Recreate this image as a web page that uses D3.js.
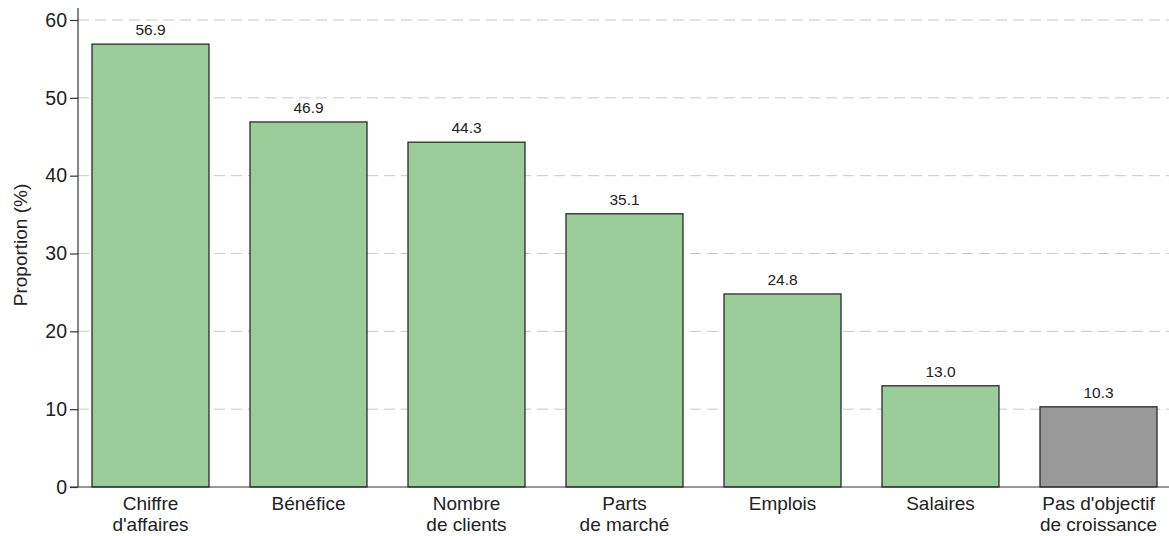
<!DOCTYPE html>
<html><head><meta charset="utf-8">
<script src="https://cdn.jsdelivr.net/npm/d3@7"></script>
<style>body{margin:0;background:#fff;} svg{display:block;font-family:"Liberation Sans",Arial,sans-serif;}</style>
</head><body>
<svg id="c" width="1169" height="536"></svg>
<script>
const categories = [["Chiffre","d'affaires"],["Bénéfice"],["Nombre","de clients"],["Parts","de marché"],["Emplois"],["Salaires"],["Pas d'objectif","de croissance"]];
const values = [56.9, 46.9, 44.3, 35.1, 24.8, 13.0, 10.3];
const barColors = ["#9acd99","#9acd99","#9acd99","#9acd99","#9acd99","#9acd99","#999999"];
const yTicks = [0,10,20,30,40,50,60];

const svg = d3.select("#c");
const x0 = 78, x1 = 1171, yTop = 20, yBot = 487;
const x = d3.scaleBand().domain(d3.range(values.length)).range([x0, x1]).paddingInner(0.2595).paddingOuter(0.0886);
const y = d3.scaleLinear().domain([0,60]).range([yBot, yTop]);

// grid
svg.append("g").selectAll("line").data(yTicks.filter(d=>d>0)).join("line")
  .attr("x1", x0).attr("x2", 1169).attr("y1", d=>y(d)).attr("y2", d=>y(d))
  .attr("stroke","#c8c8c8").attr("stroke-width",1).attr("stroke-dasharray","11,6");

// bars
svg.append("g").selectAll("rect").data(values).join("rect")
  .attr("x",(d,i)=>x(i)).attr("width",x.bandwidth())
  .attr("y",d=>y(d)).attr("height",d=>yBot-y(d))
  .attr("fill",(d,i)=>barColors[i]).attr("stroke","#2a2a2a").attr("stroke-width",1.3);

// value labels
svg.append("g").selectAll("text").data(values).join("text")
  .attr("x",(d,i)=>x(i)+x.bandwidth()/2).attr("y",d=>y(d)-9)
  .attr("text-anchor","middle").attr("font-size",15.5).attr("fill","#222")
  .text(d=>d.toFixed(1));

// y axis
const ya = svg.append("g").attr("transform",`translate(${x0},0)`)
  .call(d3.axisLeft(y).tickValues(yTicks).tickSize(8).tickPadding(3));
ya.select(".domain").attr("d",`M0,${yBot}V${8}`).attr("stroke","#333").attr("stroke-width",1.2);
ya.selectAll(".tick line").attr("stroke","#333").attr("stroke-width",1.2);
ya.selectAll(".tick text").attr("font-size",19.5).attr("fill","#222").attr("font-family","Liberation Sans, Arial, sans-serif");

// x axis line
svg.append("line").attr("x1",x0-8).attr("x2",1169).attr("y1",yBot).attr("y2",yBot)
  .attr("stroke","#333").attr("stroke-width",1.2);

// x labels
const xl = svg.append("g").selectAll("text").data(categories).join("text")
  .attr("x",(d,i)=>x(i)+x.bandwidth()/2).attr("y",yBot+23)
  .attr("text-anchor","middle").attr("font-size",19).attr("fill","#222");
xl.selectAll("tspan").data(d=>d).join("tspan")
  .attr("x",function(){return this.parentNode.getAttribute("x");})
  .attr("dy",(d,i)=>i===0?0:21).text(d=>d);

// y title
svg.append("text").attr("transform",`translate(27,245) rotate(-90)`)
  .attr("text-anchor","middle").attr("font-size",19).attr("fill","#222").text("Proportion (%)");
</script>
</body></html>
